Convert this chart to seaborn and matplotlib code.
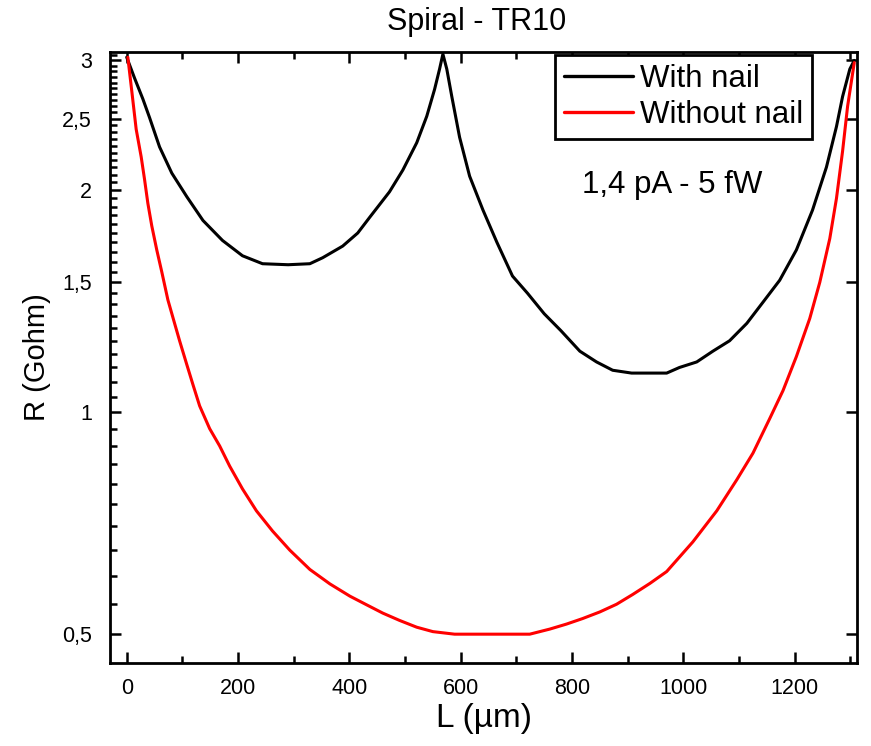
import numpy as np
import pandas as pd
import matplotlib
matplotlib.use("Agg")
import matplotlib.pyplot as plt
from matplotlib.ticker import FixedLocator, NullFormatter, MultipleLocator
import seaborn as sns

# ---------------- data ---------------- #
# "With nail" (black)
with_x = [0, 14, 29, 41, 59, 81, 108, 137, 172, 208, 244, 290, 329, 352, 388,
          415, 437, 472, 496, 521, 539, 553, 562, 568, 575, 584, 598, 616, 640,
          665, 693, 720, 750, 780, 814, 844, 873, 907, 970, 993, 1024, 1053,
          1083, 1114, 1143, 1173, 1203, 1232, 1257, 1275, 1286, 1299, 1307]
with_r = [3.03, 2.84, 2.66, 2.51, 2.29, 2.11, 1.96, 1.82, 1.71, 1.63, 1.59,
          1.585, 1.59, 1.62, 1.68, 1.75, 1.84, 1.99, 2.13, 2.32, 2.52, 2.74,
          2.92, 3.06, 2.92, 2.68, 2.36, 2.09, 1.88, 1.70, 1.53, 1.45, 1.36,
          1.29, 1.21, 1.17, 1.14, 1.13, 1.13, 1.15, 1.17, 1.21, 1.25, 1.32,
          1.41, 1.51, 1.66, 1.88, 2.15, 2.44, 2.68, 2.92, 3.0]

# "Without nail" (red)
without_x = [2, 10, 17, 26, 32, 38, 45, 54, 63, 74, 86, 95, 108, 119, 131, 149,
             167, 185, 208, 233, 262, 293, 329, 365, 401, 431, 460, 490, 521,
             550, 589, 724, 760, 790, 819, 850, 880, 909, 940, 970, 1017, 1060,
             1096, 1125, 1155, 1179, 1203, 1227, 1245, 1263, 1275, 1286, 1295,
             1307]
without_r = [3.03, 2.69, 2.42, 2.22, 2.07, 1.92, 1.79, 1.66, 1.55, 1.42, 1.32,
             1.25, 1.16, 1.09, 1.02, 0.95, 0.90, 0.845, 0.787, 0.735, 0.69, 0.65,
             0.612, 0.585, 0.563, 0.548, 0.534, 0.522, 0.511, 0.504, 0.5, 0.5,
             0.508, 0.516, 0.525, 0.536, 0.549, 0.566, 0.586, 0.608, 0.667,
             0.735, 0.81, 0.88, 0.98, 1.07, 1.19, 1.34, 1.50, 1.72, 1.95, 2.26,
             2.60, 2.98]

y_ticks = [0.5, 1, 1.5, 2, 2.5, 3]
y_tick_labels = ["0,5", "1", "1,5", "2", "2,5", "3"]
x_ticks = [0, 200, 400, 600, 800, 1000, 1200]

df = pd.concat([
    pd.DataFrame({"L": with_x, "R": with_r, "case": "With nail"}),
    pd.DataFrame({"L": without_x, "R": without_r, "case": "Without nail"}),
])

# ---------------- plot ---------------- #
sns.set_style("ticks")
plt.rcParams["font.family"] = ["Liberation Sans", "DejaVu Sans"]
plt.rcParams["text.color"] = "black"
plt.rcParams["axes.labelcolor"] = "black"

fig = plt.figure(figsize=(8.71, 7.46), dpi=100)
ax = fig.add_axes([0.1263, 0.1113, 0.8577, 0.819])

sns.lineplot(data=df, x="L", y="R", hue="case", sort=False,
             palette={"With nail": "black", "Without nail": "#ff0000"},
             linewidth=2.2, ax=ax)

ax.set_yscale("log")
ax.set_xlim(-30, 1312)
ax.set_ylim(0.457, 3.08)

ax.yaxis.set_major_locator(FixedLocator(y_ticks))
ax.set_yticklabels(y_tick_labels)
ax.yaxis.set_minor_locator(FixedLocator(np.arange(0.45, 3.06, 0.05)))
ax.yaxis.set_minor_formatter(NullFormatter())
ax.xaxis.set_major_locator(FixedLocator(x_ticks))
ax.xaxis.set_minor_locator(MultipleLocator(100))

ax.tick_params(which="both", direction="in", top=True, width=1.8,
               labelsize=15.5, colors="black")
ax.tick_params(which="major", length=8, right=True)
ax.tick_params(which="minor", length=5, right=False)
ax.tick_params(axis="x", pad=11)
ax.tick_params(axis="y", pad=13)
for s in ax.spines.values():
    s.set_linewidth(2.0)
    s.set_color("black")

# title placed in figure coords, above the frame
fig.text(0.547, 0.970, "Spiral - TR10", fontsize=22, ha="center", va="center")
ax.set_xlabel("L (µm)", fontsize=24, labelpad=3)
ax.set_ylabel("R (Gohm)", fontsize=21, labelpad=8)

ax.text(0.752, 0.782, "1,4 pA - 5 fW", transform=ax.transAxes,
        ha="center", va="center", fontsize=22.5)

leg = ax.legend(loc="upper left", bbox_to_anchor=(0.5957, 0.995),
                fontsize=22.5, frameon=True, fancybox=False,
                borderaxespad=0, handlelength=2.2, handletextpad=0.25,
                borderpad=0.28, labelspacing=0.2, framealpha=1)
leg.get_frame().set_edgecolor("black")
leg.get_frame().set_linewidth(2.0)
for line in leg.get_lines():
    line.set_linewidth(2.4)

fig.savefig("out.png", dpi=100)
